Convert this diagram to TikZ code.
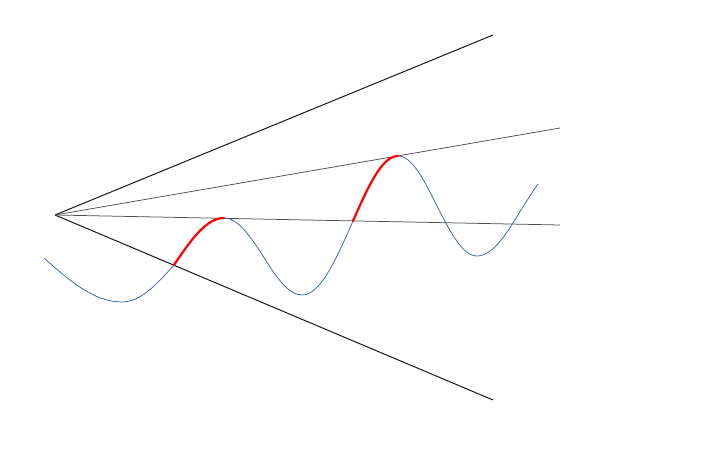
\documentclass[tikz,border=0pt]{standalone}
\begin{document}
\begin{tikzpicture}[x=1pt,y=-1pt,
  edge/.style={black!90, line width=1pt},
  ray/.style={black!70, line width=0.75pt},
  wave/.style={line width=0.75pt, color={rgb,255:red,50;green,100;blue,180}},
  hot/.style={red, line width=2.2pt, line cap=round}]
\useasboundingbox (0,0) rectangle (718,462);
\coordinate (O) at (55,215);
\coordinate (U) at (493,35);
\coordinate (L) at (493,400);
\coordinate (G1) at (560,128);
\coordinate (G2) at (560,225);
\draw[edge] (O) -- (U);
\draw[edge] (O) -- (L);
\draw[ray] (O) -- (G1);
\draw[ray] (O) -- (G2);
% wave
\coordinate (w0) at (44,258);
\coordinate (t1) at (122,302);
\coordinate (m1) at (174,265);
\coordinate (p1) at (224,218);
\coordinate (m2) at (263,256);
\coordinate (t2) at (302,295);
\coordinate (m3) at (353,221);
\coordinate (p2) at (398,156);
\coordinate (m4) at (437,206);
\coordinate (t3) at (477,256);
\coordinate (m5) at (521,210);
\coordinate (e) at (538,184);
\draw[wave] (w0) sin (t1) cos (m1) sin (p1) cos (m2) sin (t2) cos (m3) sin (p2) cos (m4) sin (t3) cos (m5) .. controls (530,196) and (534,189) .. (e);
\draw[hot] (m1) sin (p1);
\draw[hot] (m3) sin (p2);
\end{tikzpicture}
\end{document}
